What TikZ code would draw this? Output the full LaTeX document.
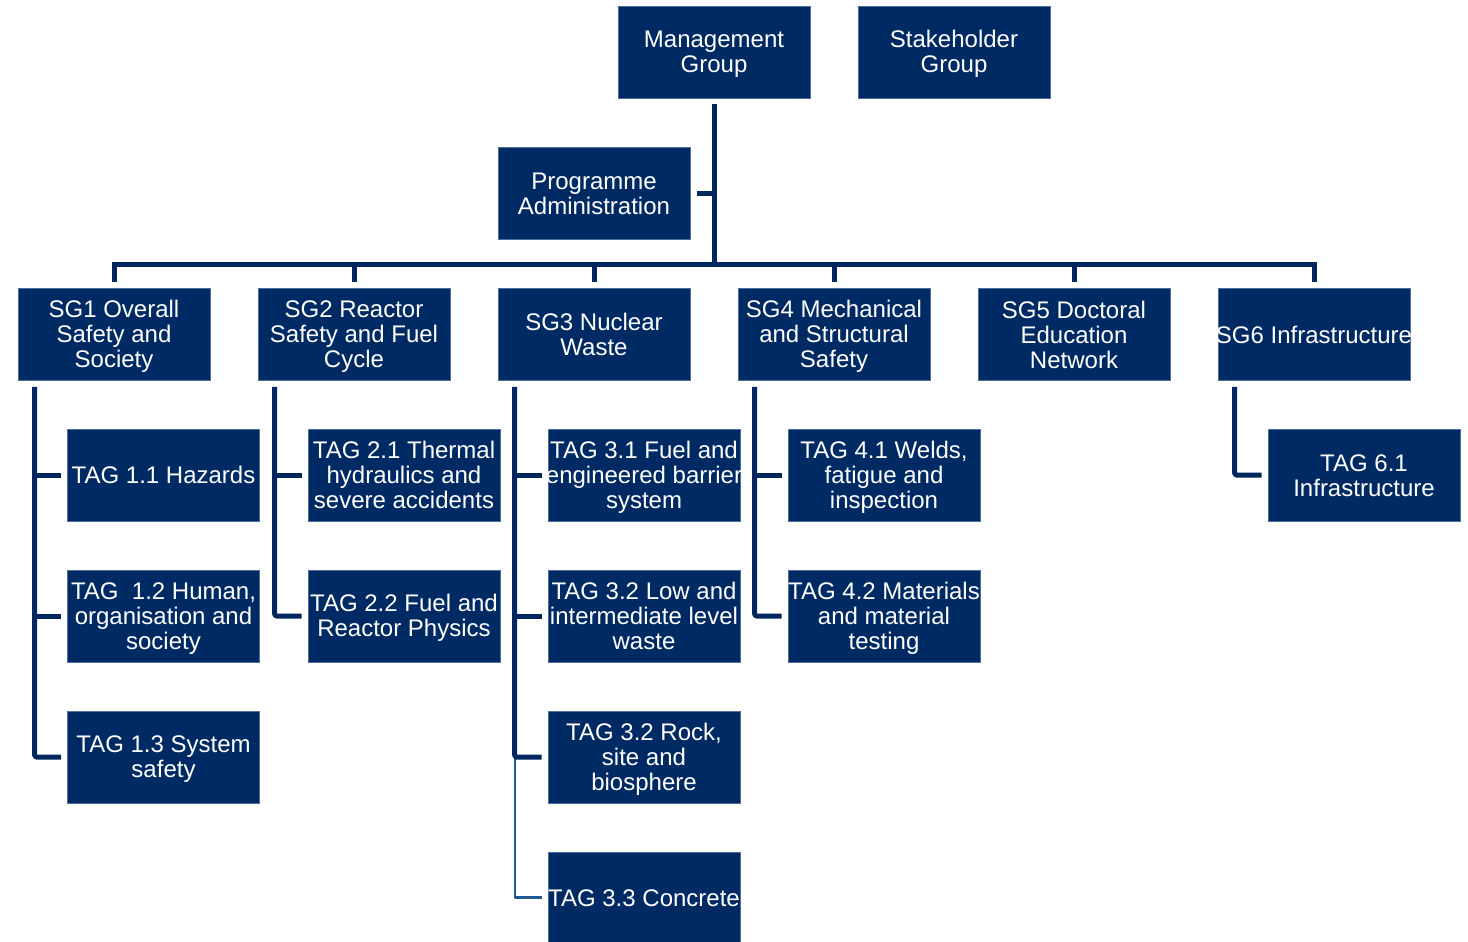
\documentclass[tikz,border=0pt]{standalone}
\usepackage{fontspec}
\setmainfont{Liberation Sans}
\definecolor{navy}{HTML}{002A63}
\definecolor{edge}{HTML}{4F6E9C}
\definecolor{linec}{HTML}{00275E}
\definecolor{thinc}{HTML}{1F5A92}
\newcommand\sst{\rule[-3.9pt]{0pt}{25pt}}
\newcommand\txfont{\fontsize{24}{25}\selectfont\lineskiplimit=-100pt\relax\lineskip=0pt\relax}
\begin{document}
\begin{tikzpicture}[x=1pt,y=-1pt,
  box/.style={rectangle,fill=navy,draw=edge,line width=0.6pt,minimum width=192pt,minimum height=92pt,inner sep=0pt},
  tx/.style={inner sep=0pt,text=white,align=center,font=\txfont},
  conn/.style={draw=linec,line width=5pt,line join=round,rounded corners=1.5pt},
  thinconn/.style={draw=thinc,line width=2.2pt,line join=round}]
\useasboundingbox (0,0) rectangle (1468,942);
% top
\node[box,label={[tx]center:{\sst Management\\Group\sst}}] (mg) at (714,52) {};
\node[box,label={[tx]center:{\sst Stakeholder\\Group\sst}}] (sh) at (954,52) {};
\node[box,label={[tx]center:{\sst Programme\\Administration\sst}}] (pa) at (594,193) {};
% SGs
\node[box,label={[tx]center:{\sst SG1 Overall\\Safety and\\Society\sst}}] (sg1) at (114,334.5) {};
\node[box,label={[tx]center:{\sst SG2 Reactor\\Safety and Fuel\\Cycle\sst}}] (sg2) at (354,334.5) {};
\node[box,label={[tx]center:{\sst SG3 Nuclear\\Waste\sst}}] (sg3) at (594,334.5) {};
\node[box,label={[tx]center:{\sst SG4 Mechanical\\and Structural\\Safety\sst}}] (sg4) at (834,334.5) {};
\node[box,label={[tx]center:{\sst SG5 Doctoral\\Education\\Network\sst}}] (sg5) at (1074,334.5) {};
\node[box,label={[tx]center:{\sst SG6 Infrastructure\sst}}] (sg6) at (1314,334.5) {};
% TAGs
\node[box,label={[tx]center:{\sst TAG 1.1 Hazards\sst}}] (t11) at (163.5,475) {};
\node[box,label={[tx]center:{\sst TAG\ \ 1.2 Human,\\organisation and\\society\sst}}] (t12) at (163.5,616) {};
\node[box,label={[tx]center:{\sst TAG 1.3 System\\safety\sst}}] (t13) at (163.5,757) {};
\node[box,label={[tx]center:{\sst TAG 2.1 Thermal\\hydraulics and\\severe accidents\sst}}] (t21) at (404,475) {};
\node[box,label={[tx]center:{\sst TAG 2.2 Fuel and\\Reactor Physics\sst}}] (t22) at (404,616) {};
\node[box,label={[tx]center:{\sst TAG 3.1 Fuel and\\engineered barrier\\system\sst}}] (t31) at (644,475) {};
\node[box,label={[tx]center:{\sst TAG 3.2 Low and\\intermediate level\\waste\sst}}] (t32) at (644,616) {};
\node[box,label={[tx]center:{\sst TAG 3.2 Rock,\\site and\\biosphere\sst}}] (t32b) at (644,757) {};
\node[box,minimum height=91pt,label={[tx]center:{\sst TAG 3.3 Concrete\sst}}] (t33) at (644,897.5) {};
\node[box,label={[tx]center:{\sst TAG 4.1 Welds,\\fatigue and\\inspection\sst}}] (t41) at (884,475) {};
\node[box,label={[tx]center:{\sst TAG 4.2 Materials\\and material\\testing\sst}}] (t42) at (884,616) {};
\node[box,label={[tx]center:{\sst TAG 6.1\\Infrastructure\sst}}] (t61) at (1364,475) {};
% bus
\coordinate (bus) at (714,264);
\draw[conn] ([yshift=-6pt]mg.south) -- (mg.south |- bus);
\draw[conn] ([xshift=7pt]pa.east) -- (pa.east -| mg.south);
\draw[conn] ([xshift=-2.5pt]sg1.north |- bus) -- ([xshift=2.5pt]sg6.north |- bus);
\foreach \s in {sg1,sg2,sg3,sg4,sg5,sg6}{
  \draw[conn] (\s.north |- bus) -- ([yshift=6pt]\s.north);
}
% SG1 children
\coordinate (v1) at ([xshift=17pt,yshift=-6pt]sg1.south west);
\draw[conn] (v1) |- ([xshift=-6pt]t13.west);
\draw[conn] (v1 |- t11.west) -- ([xshift=-6pt]t11.west);
\draw[conn] (v1 |- t12.west) -- ([xshift=-6pt]t12.west);
% SG2 children
\coordinate (v2) at ([xshift=17pt,yshift=-6pt]sg2.south west);
\draw[conn] (v2) |- ([xshift=-6pt]t22.west);
\draw[conn] (v2 |- t21.west) -- ([xshift=-6pt]t21.west);
% SG3 children
\coordinate (v3) at ([xshift=17pt,yshift=-6pt]sg3.south west);
\draw[thinconn] (v3 |- t32b.west) |- ([xshift=-6pt]t33.west);
\draw[conn] (v3) |- ([xshift=-6pt]t32b.west);
\draw[conn] (v3 |- t31.west) -- ([xshift=-6pt]t31.west);
\draw[conn] (v3 |- t32.west) -- ([xshift=-6pt]t32.west);
% SG4 children
\coordinate (v4) at ([xshift=17pt,yshift=-6pt]sg4.south west);
\draw[conn] (v4) |- ([xshift=-6pt]t42.west);
\draw[conn] (v4 |- t41.west) -- ([xshift=-6pt]t41.west);
% SG6 children
\coordinate (v6) at ([xshift=17pt,yshift=-6pt]sg6.south west);
\draw[conn] (v6) |- ([xshift=-6pt]t61.west);
\end{tikzpicture}
\end{document}
